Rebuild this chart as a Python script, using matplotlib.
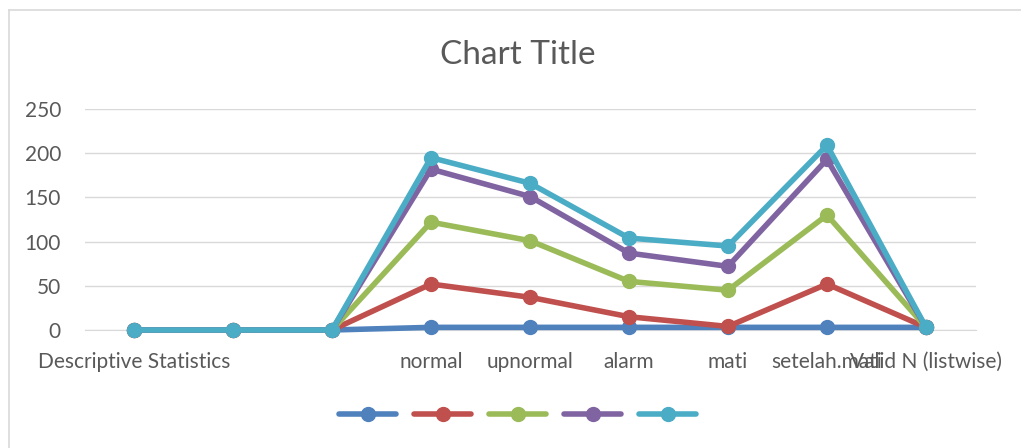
import matplotlib
matplotlib.use("Agg")
import matplotlib.pyplot as plt
from matplotlib.lines import Line2D

categories = ["Descriptive Statistics", "", "", "normal", "upnormal", "alarm", "mati",
              "setelah.mati", "Valid N (listwise)"]
series1 = [0, 0, 0, 3, 3, 3, 3, 3, 3]
series2 = [0, 0, 0, 52, 37, 15, 4, 52, 3]
series3 = [0, 0, 0, 122, 101, 55, 45, 130, 3]
series4 = [0, 0, 0, 182, 151, 87, 72, 193, 3]
series5 = [0, 0, 0, 195, 166, 104, 95, 209, 3]
colors = ["#4f81bd", "#c0504d", "#9bbb59", "#8064a2", "#4bacc6"]
yticks = [0, 50, 100, 150, 200, 250]

plt.rcParams['font.family'] = ['Lato', 'DejaVu Sans']
fig = plt.figure(figsize=(10.21, 4.48), dpi=100)
# outer chart border (only top and left edges fall inside the image)
fig.add_artist(Line2D([8.5/1021, 8.5/1021], [0, 1 - 10/448], transform=fig.transFigure,
                      color='#d9d9d9', linewidth=1.2))
fig.add_artist(Line2D([8.5/1021, 1], [1 - 10/448, 1 - 10/448], transform=fig.transFigure,
                      color='#d9d9d9', linewidth=1.2))

ax = fig.add_axes([84.5/1021, 118/448, 891/1021, 221/448])
x = list(range(len(categories)))
handles = []
for s, c in zip([series1, series2, series3, series4, series5], colors):
    ln, = ax.plot(x, s, color=c, linewidth=4, marker='o', markersize=10,
                  solid_capstyle='round', clip_on=False, zorder=3)
    handles.append(ln)

ax.set_xlim(-0.5, len(categories) - 0.5)
ax.set_ylim(0, 250)
ax.set_yticks(yticks)
ax.set_yticklabels([str(v) for v in yticks])
ax.grid(axis='y', color='#d9d9d9', linewidth=1)
ax.set_axisbelow(True)
for side in ['top', 'right', 'left']:
    ax.spines[side].set_visible(False)
ax.spines['bottom'].set_color('#d9d9d9')
ax.set_xticks(x)
ax.set_xticklabels(categories)
ax.tick_params(axis='both', length=0, labelsize=15, colors='#595959')
ax.tick_params(axis='y', pad=17)
ax.tick_params(axis='x', pad=16)

fig.text(0.507, 1 - 55/448, "Chart Title", ha='center', va='center', fontsize=24, color='#595959')
fig.legend(handles, [''] * 5, loc='center', bbox_to_anchor=(0.507, 33/448), ncol=5,
           frameon=False, handlelength=3.4, handletextpad=0, columnspacing=1.1, fontsize=12)
fig.savefig("out.png", dpi=100)
